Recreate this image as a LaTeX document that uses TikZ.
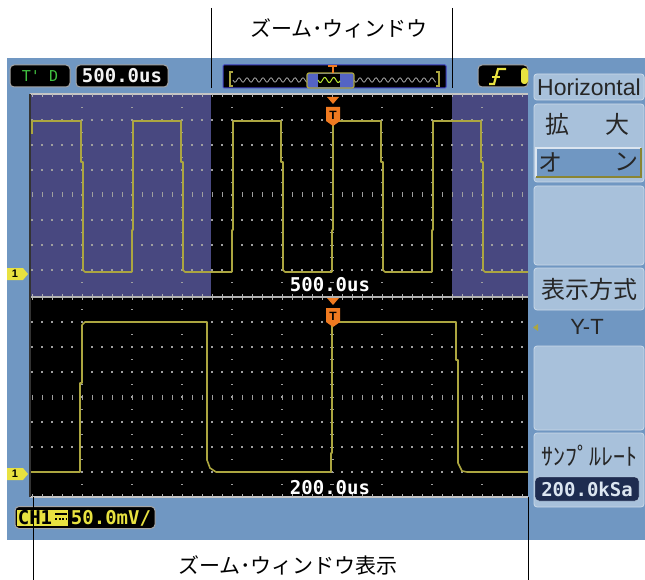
\documentclass[tikz,border=0pt]{standalone}
\usepackage{fontspec}
\setmainfont{Liberation Sans}
\newfontfamily\jp{Noto Sans CJK JP}
\newfontfamily\lcd{DejaVu Sans Mono}
\definecolor{panel}{RGB}{112,151,194}
\definecolor{menu}{RGB}{168,193,219}
\definecolor{purp}{RGB}{72,72,128}
\definecolor{wave}{RGB}{172,166,64}
\definecolor{trig}{RGB}{240,122,32}
\definecolor{chy}{RGB}{232,226,64}
\definecolor{navy}{RGB}{30,44,80}
\definecolor{grn}{RGB}{64,192,64}
\definecolor{zwin}{RGB}{84,100,196}
\tikzset{
  menubox/.style={fill=menu,draw=menu!60!white,line width=0.8pt,rounded corners=3pt},
  lcdbox/.style={fill=black,draw=gray!70,line width=1pt,rounded corners=4pt},
  trace/.style={wave,line width=1.6pt,line join=round},
  lead/.style={black,line width=0.9pt},
  jptext/.style={font=\jp\fontsize{24}{24}\selectfont,inner sep=0pt,text=black!85},
  lcdtext/.style={font=\lcd\bfseries\fontsize{19}{19}\selectfont,inner sep=0pt},
  note/.style={font=\jp\fontsize{21}{21}\selectfont,inner sep=0pt}
}
\begin{document}
\begin{tikzpicture}[x=1pt,y=-1pt]
\useasboundingbox (0,0) rectangle (645,580);
% panel and screen
\fill[panel] (7,58) rectangle (645,540);
\fill[black] (30,94) rectangle (528,497);
\fill[purp] (30,95) rectangle (211,297);
\fill[purp] (452,95) rectangle (528,297);
% grid
\foreach \yy in {120,322} {
  \foreach \i in {0,1,2,4,5,6}
    \foreach \x in {32,42,...,522}
      \fill[gray!75] (\x-0.7,\yy+25*\i-0.7) rectangle ++(1.4,1.4);
  \foreach \x in {32,42,...,522}
    \draw[gray!75,line width=1pt] (\x,\yy+72.5) -- ++(0,5);
}
\foreach \yy in {107.5,309.5} {
  \foreach \x in {82,132,182,232,282,382,432,482}
    \foreach \k in {0,...,14}
      \fill[gray!75] (\x-0.7,\yy+12.5*\k-0.7) rectangle ++(1.4,1.4);
  \foreach \k in {0,...,14}
    \draw[gray!75,line width=1pt] (330,\yy+12.5*\k) -- ++(4,0);
}
% borders
\draw[gray!45,line width=1.2pt] (30,94) -- (528,94);
\draw[gray!60,line width=1.2pt] (30,297) -- (528,297);
\draw[gray!45,line width=1.2pt] (30,497) -- (528,497);
\foreach \x in {32,42,...,522} {
  \draw[gray!60,line width=0.8pt] (\x,94) -- ++(0,3);
  \draw[gray!60,line width=0.8pt] (\x,294) -- ++(0,6);
  \draw[gray!60,line width=0.8pt] (\x,497) -- ++(0,-3);
}
\draw[black!80,line width=1.5pt] (30,94) -- (30,497);
% traces
\begin{scope}
\clip (30,94) rectangle (528,497);
\draw[trace] (32,134) -- (32,121) -- (81,121) -- (81,162) -- (83,162) -- (83,270) -- (85,272) -- (132,272);
\foreach \x in {132,232,332,432}
  \draw[trace] (\x,272) -- (\x,230) -- (\x+1,230) -- (\x+1,121) -- (\x+49,121) -- (\x+49,162)
    -- (\x+51,162) -- (\x+51,270) -- (\x+53,272) -- (\x+100,272);
\draw[trace] (31,472) -- (80,472) -- (80,383) -- (82,383) -- (82,325) -- (85,322) -- (207,322)
  -- (207,460) -- (210,468) -- (216,472) -- (331,472) -- (331,453) -- (332,453) -- (332,325)
  -- (337,322) -- (456,322) -- (456,360) -- (458,360) -- (458,463) -- (462,471) -- (467,472) -- (528,472);
\end{scope}
\node[lcdtext,text=white] (u1) at (330,285) {500.0us};
\node[lcdtext,text=white] (u2) at (330,488) {200.0us};
% trigger position marks
\foreach \y in {97,298} {
  \fill[trig] (327,\y) -- (339,\y) -- (333,\y+7) -- cycle;
  \fill[trig] (326,\y+10) -- (340,\y+10) -- (340,\y+24) -- (333,\y+29) -- (326,\y+24) -- cycle;
  \node[font=\bfseries\fontsize{12}{12}\selectfont,inner sep=0pt] (t\y) at (333,\y+18) {T};
}
% channel marks
\foreach \y in {274,474} {
  \fill[chy] (7,\y-6) -- (23,\y-6) -- (28,\y) -- (23,\y+6) -- (7,\y+6) -- cycle;
  \node[font=\bfseries\fontsize{11}{11}\selectfont,inner sep=0pt] (c\y) at (15,\y) {1};
}
% status bar
\node[lcdbox,minimum width=60pt,minimum height=22pt,font=\lcd\fontsize{15}{15}\selectfont,text=grn] (td) at (40,76) {T' D};
\node[lcdbox,minimum width=92pt,minimum height=22pt,lcdtext,inner sep=0pt,text=white!90!gray] (tb) at (122,76) {500.0us};
\node[lcdbox,draw=gray!50!blue,rounded corners=1pt,minimum width=223pt,minimum height=23pt] (zb) at (334.5,76.5) {};
\draw[wave,line width=1.2pt] (233,72) -- (230,72) -- (230,86) -- (233,86);
\draw[wave,line width=1.2pt] (436,72) -- (439,72) -- (439,86) -- (436,86);
\draw[gray!70,line width=0.8pt] plot[domain=233:307,samples=90] (\x,{80+2.2*sin((\x-233)*45)});
\draw[gray!70,line width=0.8pt] plot[domain=354:436,samples=100] (\x,{80+2.2*sin((\x-354)*45)});
\fill[zwin] (307,73) rectangle (354,88);
\fill[black] (318,74) rectangle (340,87);
\draw[chy!80!green,line width=1pt] plot[domain=318:340,samples=40] (\x,{80+2.5*sin((\x-318)*40)});
\draw[wave,line width=1.2pt,rounded corners=2pt] (307,73) rectangle (354,88);
\draw[trig,line width=2pt] (328,66) -- (337,66) (332.5,66) -- (332.5,73);
\node[lcdbox,minimum width=50pt,minimum height=22pt] (tg) at (503,76) {};
\draw[chy,line width=2.2pt] (489,84) -- (494,84) -- (498,69) -- (506,69);
\draw[chy,line width=2pt] (492,77) -- (500,77);
\fill[chy,rounded corners=3pt] (521,68) rectangle (528,84);
% menu
\node[menubox,minimum width=110pt,minimum height=26pt,font=\fontsize{23}{23}\selectfont,text=black!85] (hz) at (589,87) {Horizontal};
\draw[menubox] (534,104) rectangle (644,182);
\node[jptext] (k1) at (557,124) {拡};
\node[jptext] (k2) at (617,124) {大};
\fill[panel] (536,148) rectangle (641,177);
\draw[white!75!panel,line width=1.2pt] (536,177) -- (536,148) -- (641,148);
\draw[wave!80!black,line width=1.5pt] (536,177) -- (641,177) -- (641,148);
\node[jptext] (o1) at (550,162) {オ};
\node[jptext] (o2) at (626,162) {ン};
\draw[menubox] (534,186) rectangle (644,265);
\node[menubox,minimum width=110pt,minimum height=42pt,jptext] (hs) at (589,289) {表示方式};
\node[font=\fontsize{22}{22}\selectfont,inner sep=0pt,text=black!85] (yt) at (587,327) {Y-T};
\fill[wave] (533,327.5) -- (538,324) -- (538,331) -- cycle;
\draw[menubox] (534,346) rectangle (644,430);
\draw[menubox] (534,433) rectangle (644,507);
\node[jptext] (sr) at (589,456) {ｻﾝﾌﾟﾙﾚｰﾄ};
\node[fill=navy,draw=menu!60!white,rounded corners=4pt,minimum width=104pt,minimum height=24pt,lcdtext,text=menu!40!white] (kb) at (587,489) {200.0kSa};
% channel readout
\node[lcdbox,minimum width=140pt,minimum height=22pt] (cb) at (85,517.5) {};
\fill[chy] (17,510) rectangle (68,526);
\node[lcdtext,text=black] (ch) at (35,518) {CH1};
\draw[black,line width=1.5pt] (55,514) -- (67,514);
\draw[black,line width=1.5pt,dash pattern=on 2pt off 1.5pt] (55,519) -- (67,519);
\node[lcdtext,text=chy] (mv) at (111,518) {50.0mV/};
% leader lines and notes
\coordinate (zl1) at (211.5,8);  \coordinate (zl2) at (211.5,88);
\coordinate (zr1) at (452.5,8);  \coordinate (zr2) at (452.5,88);
\coordinate (bl1) at (33,497);   \coordinate (bl2) at (33,580);
\coordinate (br1) at (528,497);  \coordinate (br2) at (528,580);
\draw[lead] (zl1) -- (zl2);
\draw[lead] (zr1) -- (zr2);
\draw[lead] (bl1) -- (bl2);
\draw[lead] (br1) -- (br2);
\node[note] (zw) at (339,28) {ズーム･ウィンドウ};
\node[note] (zd) at (288,565) {ズーム･ウィンドウ表示};
\end{tikzpicture}
\end{document}
